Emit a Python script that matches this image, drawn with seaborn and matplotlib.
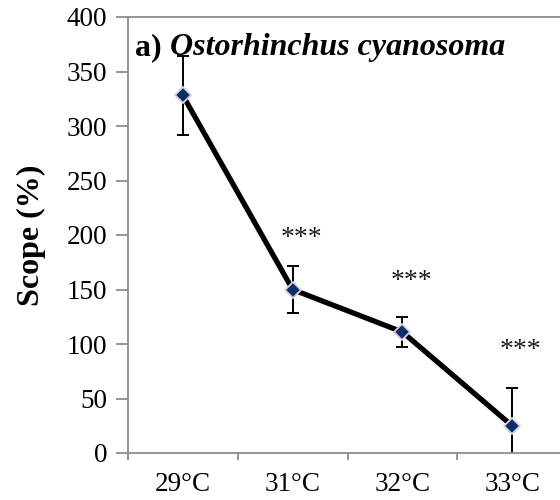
import numpy as np
import pandas as pd
import matplotlib
matplotlib.use("Agg")
import matplotlib.pyplot as plt
import seaborn as sns

# Aerobic scope of Ostorhinchus cyanosoma across temperature treatments
temps = ["29°C", "31°C", "32°C", "33°C"]
scope = [328, 150, 111, 25]
scope_err = [36, 22, 14, 35]
signif = ["", "***", "***", "***"]
signif_y = [0, 197, 157, 94]

yticks = [0, 50, 100, 150, 200, 250, 300, 350, 400]

sns.set_theme(style="white")
plt.rcParams["font.family"] = ["Liberation Serif", "DejaVu Serif"]
plt.rcParams.update({"text.color": "black", "axes.labelcolor": "black",
                     "xtick.labelcolor": "black", "ytick.labelcolor": "black"})

df = pd.DataFrame({"temp": temps, "scope": scope})
pos = np.arange(len(temps))

fig = plt.figure(figsize=(5.6, 5.0), dpi=100)
ax = fig.add_axes([128 / 560, 1 - 453 / 500, 439 / 560, 436 / 500])

ax.errorbar(pos, scope, yerr=scope_err, fmt="none", ecolor="black",
            elinewidth=1.4, capsize=4.5, capthick=1.4, zorder=2)
sns.lineplot(data=df, x="temp", y="scope", sort=False, ax=ax,
             color="black", linewidth=3.8, marker="D", markersize=8,
             markerfacecolor="#0f2d6b", markeredgecolor="#d4d4d4",
             markeredgewidth=1.3, zorder=3)

for i, s in enumerate(signif):
    if s:
        ax.text(pos[i] + 0.08, signif_y[i], s, ha="center", va="center",
                fontsize=20, color="#1a1a1a")

ax.set_xlim(-0.5, len(temps) - 0.5)
ax.set_ylim(0, 400)
ax.set_yticks(yticks)
ax.set_yticklabels([str(v) for v in yticks], fontsize=19.5)
ax.set_xticks(pos)
ax.set_xticklabels(temps, fontsize=19.5)
ax.set_xticks(np.arange(-0.5, len(temps) + 0.5, 1.0), minor=True)
ax.tick_params(axis="x", which="major", length=0, pad=14)
ax.tick_params(axis="x", which="minor", length=5, width=1.3,
               color="#8c8c8c", direction="out", bottom=True)
ax.tick_params(axis="y", which="major", length=9, width=1.3,
               color="#8c8c8c", direction="out", left=True, pad=6)

ax.set_xlabel("")
ax.set_ylabel("Scope (%)", fontsize=23, fontweight="bold", labelpad=15)

for side in ["left", "bottom", "top"]:
    ax.spines[side].set_color("#8c8c8c")
    ax.spines[side].set_linewidth(1.3)
ax.spines["right"].set_visible(False)

# panel title: bold label followed by the italic species name
prefix = ax.text(0.016, 0.93, "a) ", transform=ax.transAxes, fontsize=23,
                 fontweight="bold", va="center", ha="left")
ax.annotate("Ostorhinchus cyanosoma", xy=(1, 0.5), xycoords=prefix,
            fontsize=23, fontweight="bold", fontstyle="italic",
            va="center", ha="left")

fig.savefig("out.png", dpi=100)
